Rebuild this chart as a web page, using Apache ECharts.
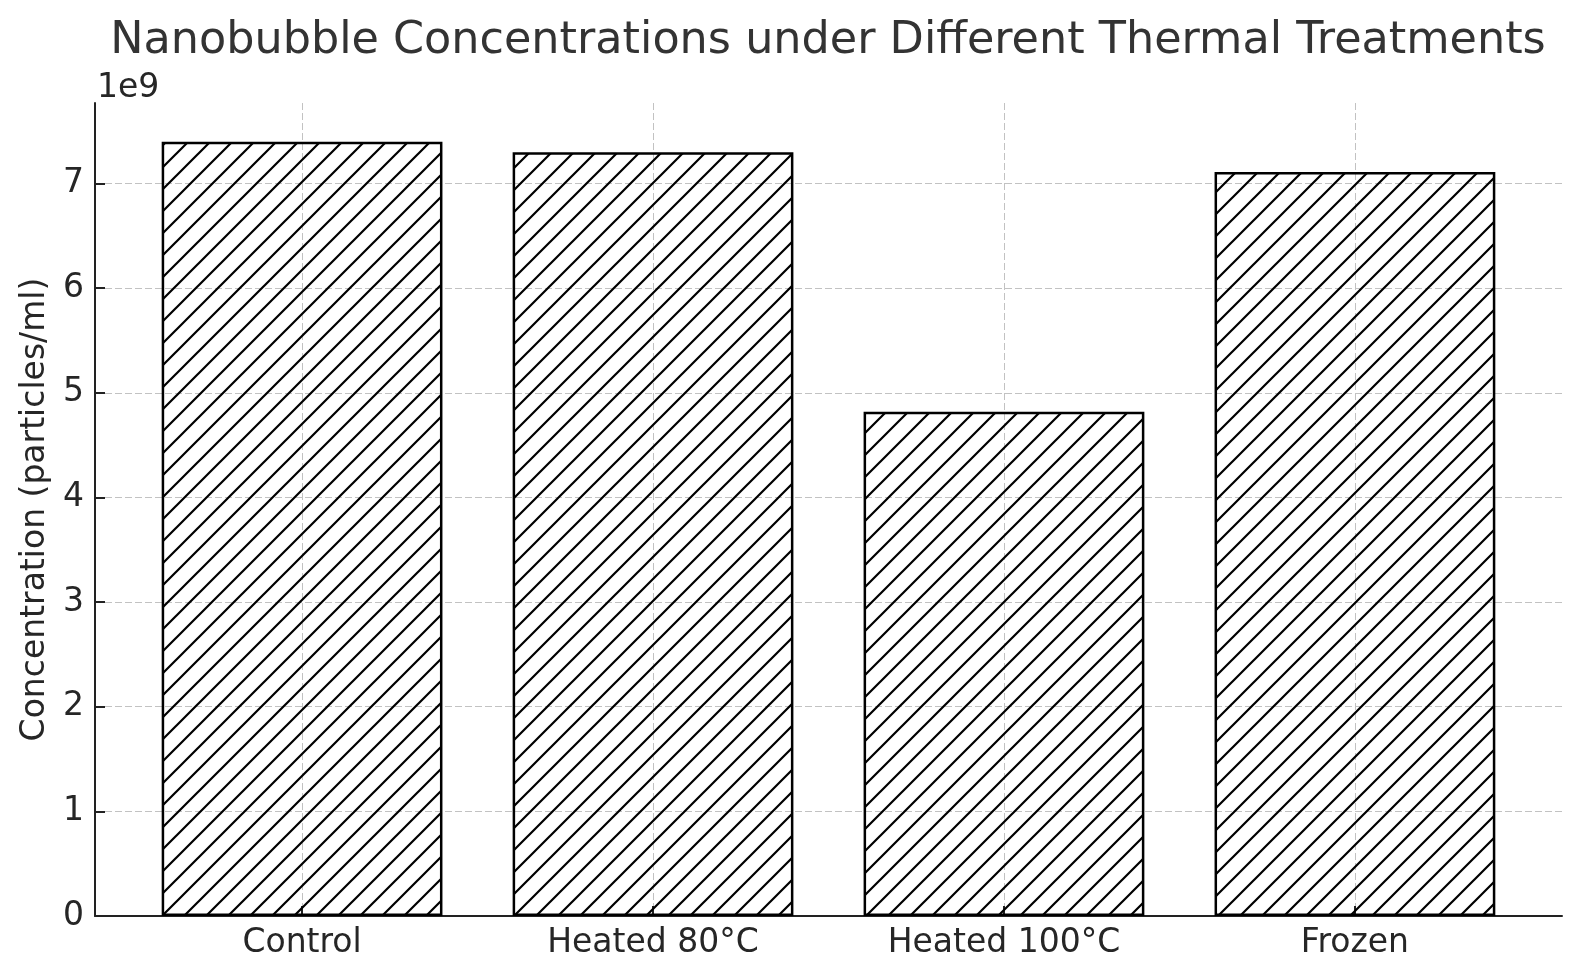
<!DOCTYPE html>
<html>
<head>
<meta charset="utf-8">
<script src="https://cdn.jsdelivr.net/npm/echarts@6/dist/echarts.min.js"></script>
<style>
html,body{margin:0;padding:0;background:#fff;}
#chart{width:1580px;height:979px;}
</style>
</head>
<body>
<div id="chart"></div>
<script>
// ---- data ----
const categories = ['Control', 'Heated 80°C', 'Heated 100°C', 'Frozen'];
const concentrations = [7.40e9, 7.30e9, 4.82e9, 7.11e9];
const yTickValues = [0, 1e9, 2e9, 3e9, 4e9, 5e9, 6e9, 7e9];
const xTickValues = [0, 1, 2, 3];

const FONT = 'DejaVu Sans';

function makeHatch() {
  const s = 22;
  const c = document.createElement('canvas');
  c.width = s; c.height = s;
  const g = c.getContext('2d');
  g.strokeStyle = '#000';
  g.lineWidth = 2.2;
  g.beginPath();
  g.moveTo(-s, s); g.lineTo(s, -s);
  g.moveTo(0, s); g.lineTo(s, 0);
  g.moveTo(0, 2 * s); g.lineTo(2 * s, 0);
  g.stroke();
  return c;
}

const chart = echarts.init(document.getElementById('chart'), null, {renderer: 'canvas'});
const gridLine = {show: true, lineStyle: {color: '#c2c2c2', width: 1, type: [7, 3]}};

chart.setOption({
  backgroundColor: '#fff',
  animation: false,
  title: [
    {
      text: 'Nanobubble Concentrations under Different Thermal Treatments',
      left: 823, top: 14, textAlign: 'center',
      textStyle: {fontFamily: FONT, fontSize: 44.5, fontWeight: 'normal', color: '#333'}
    },
    {
      text: '1e9', left: 92, top: 67,
      textStyle: {fontFamily: FONT, fontSize: 33, fontWeight: 'normal', color: '#262626'}
    }
  ],
  grid: {left: 95, right: 18, top: 103, bottom: 63, containLabel: false},
  xAxis: {
    type: 'value',
    min: -0.59, max: 3.59,
    axisLine: {show: true, onZero: false, lineStyle: {color: '#222', width: 2}},
    axisTick: {show: true, inside: true, length: 10, lineStyle: {color: '#222', width: 2}, customValues: xTickValues},
    axisLabel: {
      customValues: xTickValues,
      formatter: v => categories[Math.round(v)],
      fontFamily: FONT, fontSize: 33, color: '#262626', margin: 11
    },
    splitLine: gridLine
  },
  yAxis: {
    type: 'value',
    min: 0, max: 7.77e9,
    name: 'Concentration (particles/ml)',
    nameLocation: 'middle', nameRotate: 90, nameGap: 43,
    nameTextStyle: {fontFamily: FONT, fontSize: 33, color: '#262626'},
    axisLine: {show: true, onZero: false, lineStyle: {color: '#222', width: 2}},
    axisTick: {show: true, inside: true, length: 10, lineStyle: {color: '#222', width: 2}, customValues: yTickValues},
    axisLabel: {
      customValues: yTickValues,
      formatter: v => String(Math.round(v / 1e9)),
      fontFamily: FONT, fontSize: 33, color: '#262626', margin: 11
    },
    splitLine: gridLine
  },
  series: [{
    type: 'bar',
    data: categories.map((c, i) => [i, concentrations[i]]),
    barWidth: '80%',
    itemStyle: {
      color: {image: makeHatch(), repeat: 'repeat'},
      borderColor: '#000',
      borderWidth: 2.5
    }
  }]
});
</script>
</body>
</html>
